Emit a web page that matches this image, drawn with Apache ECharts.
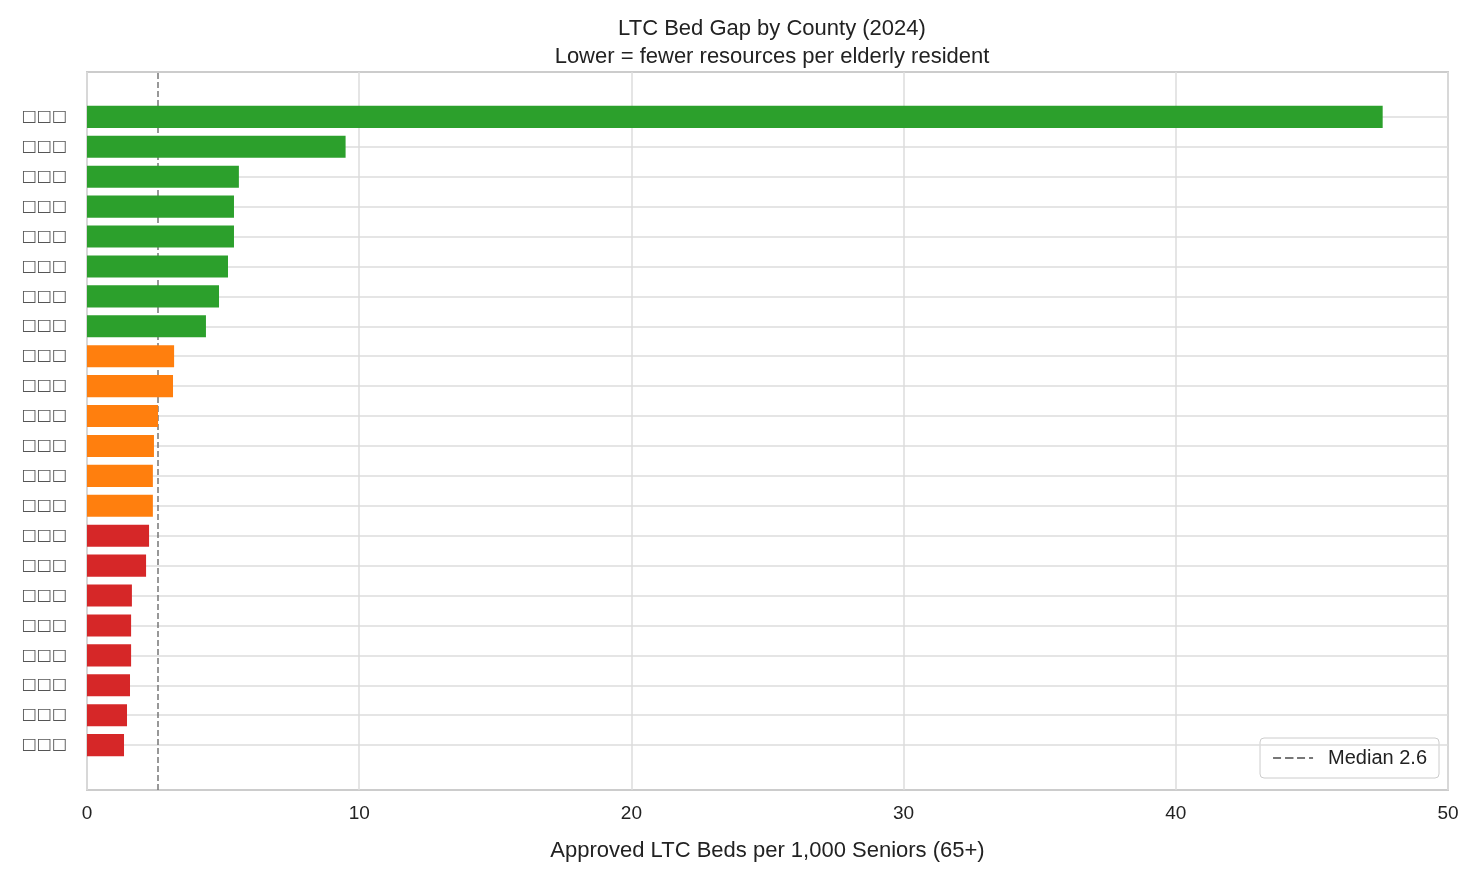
<!DOCTYPE html>
<html><head><meta charset="utf-8">
<script src="https://cdn.jsdelivr.net/npm/echarts@6/dist/echarts.min.js"></script>
<style>html,body{margin:0;padding:0;background:#fff}#c{width:1475px;height:875px}</style>
</head><body><div id="c"></div>
<script>
// top to bottom as in the reference (labels rendered as missing-glyph boxes)
const counties = ["□□□","□□□","□□□","□□□","□□□","□□□","□□□","□□□","□□□","□□□","□□□","□□□","□□□","□□□","□□□","□□□","□□□","□□□","□□□","□□□","□□□","□□□"];
const beds = [47.6,9.5,5.58,5.4,5.4,5.18,4.85,4.37,3.2,3.16,2.61,2.46,2.42,2.42,2.28,2.17,1.65,1.62,1.62,1.58,1.47,1.36];
const tiers = ["high","high","high","high","high","high","high","high","mid","mid","mid","mid","mid","mid","low","low","low","low","low","low","low","low"];
const median = 2.6;
const tierColors = {high:"#2ca02c", mid:"#ff7f0e", low:"#d62728"};

const cats = [""].concat(counties.slice().reverse()).concat([""]);
const barData = [null].concat(beds.map((v,i)=>({value:v,itemStyle:{color:tierColors[tiers[i]]}})).reverse()).concat([null]);
const keys = cats.map((c,i)=>i);
const F = 'Liberation Sans';

const chart = echarts.init(document.getElementById('c'));
chart.setOption({
  animation:false,
  title:{text:"LTC Bed Gap by County (2024)\nLower = fewer resources per elderly resident",left:767,top:10,textAlign:'center',
    textStyle:{fontSize:22,fontWeight:'normal',color:'#222',lineHeight:28,fontFamily:F}},
  grid:{left:87,right:27,top:72,bottom:85,show:true,borderColor:'#ccc',borderWidth:2},
  legend:{data:[{name:'Median 2.6'}],right:36,bottom:97,orient:'vertical',itemWidth:40,itemHeight:2,
    borderColor:'#ccc',borderWidth:1,borderRadius:4,padding:[10,12],
    textStyle:{fontSize:20,color:'#222',fontFamily:F,padding:[0,0,0,10]}},
  xAxis:{type:'value',min:0,max:50,interval:10,
    name:'Approved LTC Beds per 1,000 Seniors (65+)',nameLocation:'middle',nameGap:50,
    nameTextStyle:{fontSize:22,color:'#222',fontFamily:F},
    axisLine:{show:false},axisTick:{show:false},
    axisLabel:{fontSize:19,color:'#222',margin:14,fontFamily:F},
    splitLine:{lineStyle:{color:'#ddd',width:1.5}}},
  yAxis:{type:'category',data:cats,axisLine:{show:false},axisTick:{show:false},splitLine:{show:false},
    axisLabel:{fontSize:16,color:'#555',margin:20,fontFamily:'DejaVu Sans'}},
  series:[
    {type:'line',name:'grid',data:[],silent:true,
      markLine:{silent:true,symbol:'none',label:{show:false},lineStyle:{color:'#ddd',width:1.5,type:'solid'},
        data:keys.slice(1,-1).map(i=>({yAxis:i}))}},
    {type:'bar',name:'beds',data:barData,barWidth:'74%',zlevel:1},
    {type:'line',name:'Median 2.6',data:[],symbol:'none',zlevel:2,
      lineStyle:{color:'#777',type:'dashed',width:1.5},itemStyle:{color:'#777'},
      markLine:{silent:true,symbol:'none',label:{show:false},lineStyle:{color:'#777',type:'dashed',width:1.5},
        data:[{xAxis:median}]}}
  ]
});
</script></body></html>
